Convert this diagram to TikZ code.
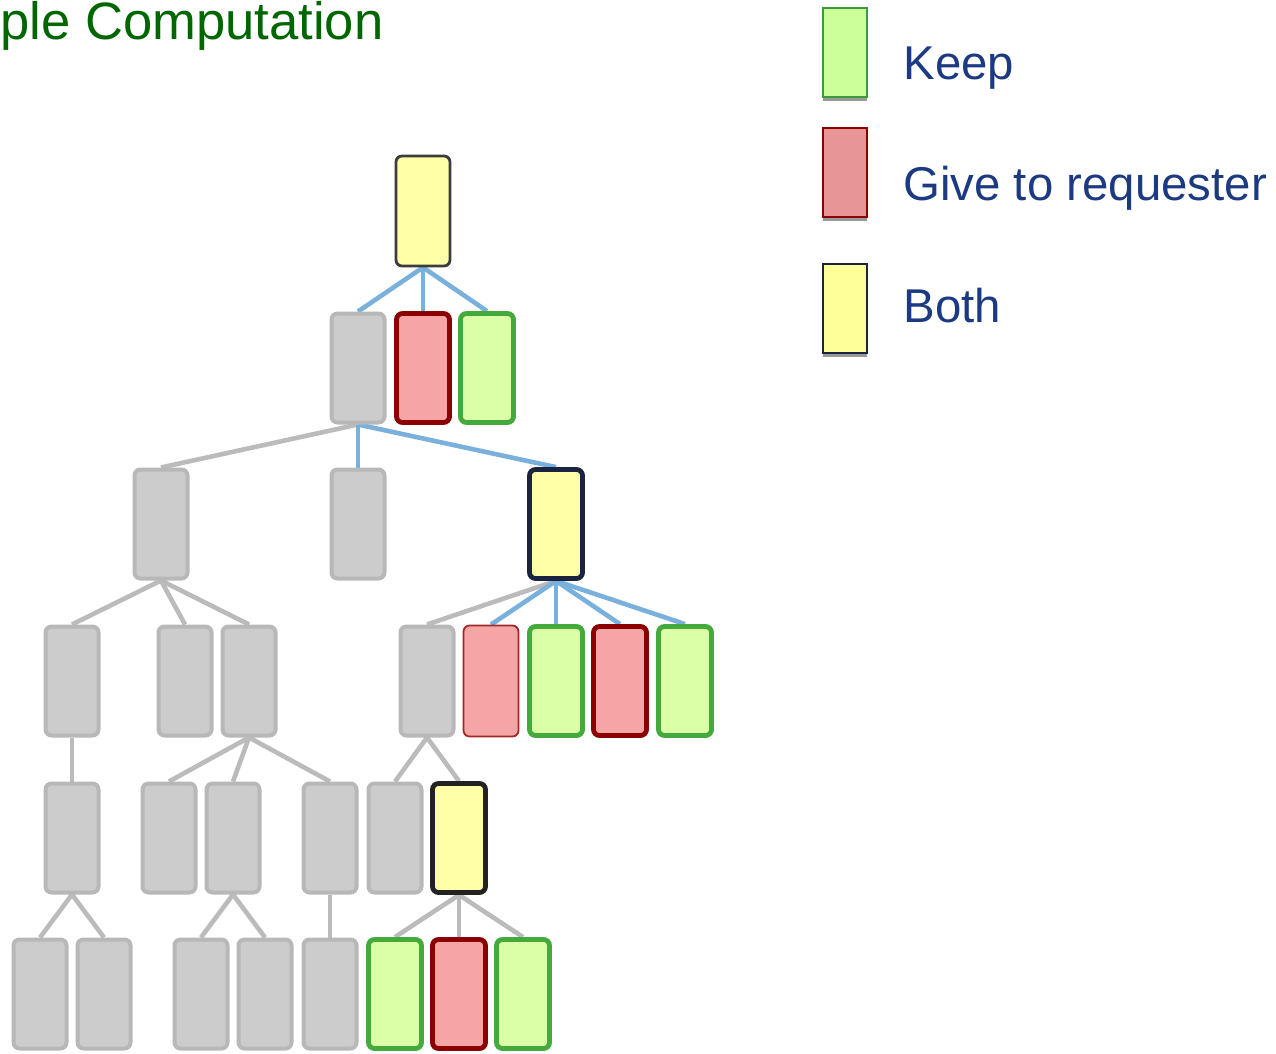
\documentclass[tikz,border=0pt]{standalone}
\usepackage{fontspec}
\setmainfont{Liberation Sans}
\usetikzlibrary{backgrounds,shadows}
\definecolor{titlegreen}{RGB}{0,102,0}
\definecolor{legtext}{RGB}{28,58,130}
\definecolor{gfill}{RGB}{204,204,204}
\definecolor{gborder}{RGB}{184,184,184}
\definecolor{gline}{RGB}{187,187,187}
\definecolor{bline}{RGB}{122,176,220}
\definecolor{rfill}{RGB}{245,165,165}
\definecolor{rborder}{RGB}{139,0,0}
\definecolor{rthin}{RGB}{160,40,40}
\definecolor{kfill}{RGB}{218,255,166}
\definecolor{kborder}{RGB}{68,170,60}
\definecolor{yfill}{RGB}{255,255,168}
\definecolor{ynavy}{RGB}{26,36,64}
\definecolor{ydark}{RGB}{34,34,34}
\definecolor{yroot}{RGB}{60,60,60}
\definecolor{lkfill}{RGB}{204,255,153}
\definecolor{lkborder}{RGB}{60,154,60}
\definecolor{lrfill}{RGB}{232,149,149}
\definecolor{lyfill}{RGB}{255,255,153}
\tikzset{
  box/.style={rectangle, rounded corners=3pt, minimum width=26.5pt, minimum height=54.5pt, inner sep=0pt, line width=2.4pt},
  graybox/.style={box, fill=gfill, draw=gborder, line width=2pt},
  redbox/.style={box, fill=rfill, draw=rborder},
  redthin/.style={box, fill=rfill, draw=rthin, line width=0.9pt, minimum width=27.5pt, minimum height=55.5pt},
  keepbox/.style={box, fill=kfill, draw=kborder},
  bothbox/.style={box, fill=yfill, draw=ynavy},
  bothdark/.style={box, fill=yfill, draw=ydark},
  bothroot/.style={box, fill=yfill, draw=yroot, line width=1.4pt, minimum width=27pt, minimum height=55pt},
  gedge/.style={draw=gline, line width=2.3pt},
  bedge/.style={draw=bline, line width=2.3pt},
  legbox/.style={rectangle, minimum width=22pt, minimum height=44.5pt, inner sep=0pt, line width=1pt,
     drop shadow={shadow xshift=0pt, shadow yshift=-2pt, fill=black!40, opacity=1}},
  legtxt/.style={anchor=base west, inner sep=0pt, text=legtext, font=\fontsize{23.7}{28}\selectfont},
}
\begin{document}
\begin{tikzpicture}[x=0.5pt,y=-0.5pt]
\useasboundingbox (0,0) rectangle (1276,1054);
% title
\node[anchor=base west, inner sep=0pt, text=titlegreen, font=\fontsize{26.3}{30}\selectfont] (title) at (0,40) {ple Computation};
% legend
\node[legbox, fill=lkfill, draw=lkborder] (lk) at (845,52.5) {};
\node[legbox, fill=lrfill, draw=rborder] (lr) at (845,172.5) {};
\node[legbox, fill=lyfill, draw=ynavy] (ly) at (845,308.5) {};
\node[legtxt] (tk) at (903,80) {Keep};
\node[legtxt] (tr) at (903,201) {Give to requester};
\node[legtxt] (ty) at (903,322) {Both};
% tree level 0
\node[bothroot] (r) at (423,211) {};
% level 1
\node[graybox] (a1) at (358,368) {};
\node[redbox]  (a2) at (423,368) {};
\node[keepbox] (a3) at (487,368) {};
% level 2
\node[graybox] (b1) at (161,524) {};
\node[graybox] (b2) at (358,524) {};
\node[bothbox] (b3) at (556,524) {};
% level 3
\node[graybox] (c1) at (72,681) {};
\node[graybox] (c2) at (185,681) {};
\node[graybox] (c3) at (249,681) {};
\node[graybox] (c4) at (427,681) {};
\node[redthin] (c5) at (491,681) {};
\node[keepbox] (c6) at (556,681) {};
\node[redbox]  (c7) at (620,681) {};
\node[keepbox] (c8) at (685,681) {};
% level 4
\node[graybox] (d1) at (72,838) {};
\node[graybox] (d2) at (169,838) {};
\node[graybox] (d3) at (233,838) {};
\node[graybox] (d4) at (330,838) {};
\node[graybox] (d5) at (395,838) {};
\node[bothdark] (d6) at (459,838) {};
% level 5
\node[graybox] (e1) at (40,994) {};
\node[graybox] (e2) at (104,994) {};
\node[graybox] (e3) at (201,994) {};
\node[graybox] (e4) at (265,994) {};
\node[graybox] (e5) at (330,994) {};
\node[keepbox] (e6) at (395,994) {};
\node[redbox]  (e7) at (459,994) {};
\node[keepbox] (e8) at (523,994) {};
% edges
\begin{scope}[on background layer]
\foreach \c in {a1,a2,a3} \draw[bedge] (r.south) -- (\c.north);
\draw[gedge] (a1.south) -- (b1.north);
\draw[bedge] (a1.south) -- (b2.north);
\draw[bedge] (a1.south) -- (b3.north);
\foreach \c in {c1,c2,c3} \draw[gedge] (b1.south) -- (\c.north);
\draw[gedge] (b3.south) -- (c4.north);
\foreach \c in {c5,c6,c7,c8} \draw[bedge] (b3.south) -- (\c.north);
\draw[gedge] (c1.south) -- (d1.north);
\foreach \c in {d2,d3,d4} \draw[gedge] (c3.south) -- (\c.north);
\foreach \c in {d5,d6} \draw[gedge] (c4.south) -- (\c.north);
\foreach \c in {e1,e2} \draw[gedge] (d1.south) -- (\c.north);
\foreach \c in {e3,e4} \draw[gedge] (d3.south) -- (\c.north);
\draw[gedge] (d4.south) -- (e5.north);
\foreach \c in {e6,e7,e8} \draw[gedge] (d6.south) -- (\c.north);
\end{scope}
\end{tikzpicture}
\end{document}
